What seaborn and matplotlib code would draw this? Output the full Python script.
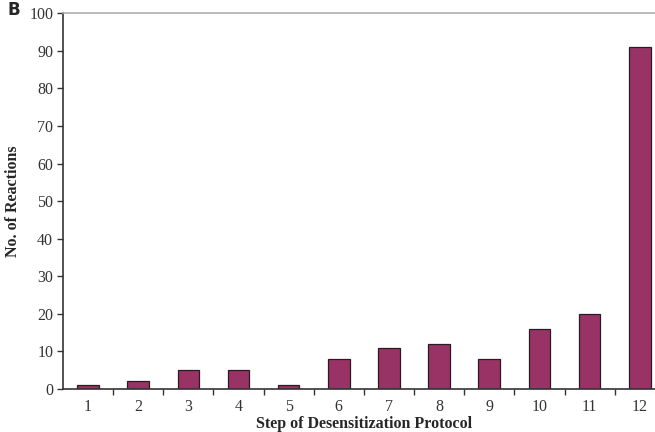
import matplotlib
matplotlib.use("Agg")
import matplotlib.pyplot as plt
import seaborn as sns
import numpy as np

steps = ["1", "2", "3", "4", "5", "6", "7", "8", "9", "10", "11", "12"]
reactions = [1, 2, 5, 5, 1, 8, 11, 12, 8, 16, 20, 91]

sns.set_style("white")
plt.rcParams["font.family"] = ["Liberation Serif", "DejaVu Serif"]

fig = plt.figure(figsize=(6.55, 4.32), dpi=100)
ax = fig.add_axes([0.096, 0.0995, 0.919, 0.870])

sns.barplot(x=steps, y=reactions, color="#993366", saturation=1,
            edgecolor="#2a1a22", linewidth=0.9, width=0.43, ax=ax)

ax.set_xlim(-0.5, 11.5)
ax.set_ylim(0, 100)
ax.set_yticks(range(0, 101, 10))
ax.tick_params(axis="y", direction="out", length=4, width=1, color="#333333",
               labelsize=11.5, labelcolor="#333333", left=True, pad=3)
ax.tick_params(axis="x", which="major", length=0, labelsize=11.5,
               labelcolor="#333333", pad=7)
ax.set_xticks(np.arange(0.5, 11.5, 1), minor=True)
ax.tick_params(axis="x", which="minor", direction="out", length=4, width=1,
               color="#333333", bottom=True)

for s in ["left", "bottom"]:
    ax.spines[s].set_color("#333333")
    ax.spines[s].set_linewidth(1.2)
ax.spines["top"].set_color("#b0b0b0")
ax.spines["top"].set_linewidth(1.2)
ax.spines["right"].set_visible(False)

ax.set_xlabel("Step of Desensitization Protocol", fontsize=11.5, fontweight="bold", labelpad=1)
ax.set_ylabel("No. of Reactions", fontsize=11.5, fontweight="bold", labelpad=6)

# panel letter
fig.text(0.012, 0.998, "B", fontsize=12, fontweight="bold", family="DejaVu Sans",
         va="top", ha="left")

fig.savefig("out.png", dpi=100)
